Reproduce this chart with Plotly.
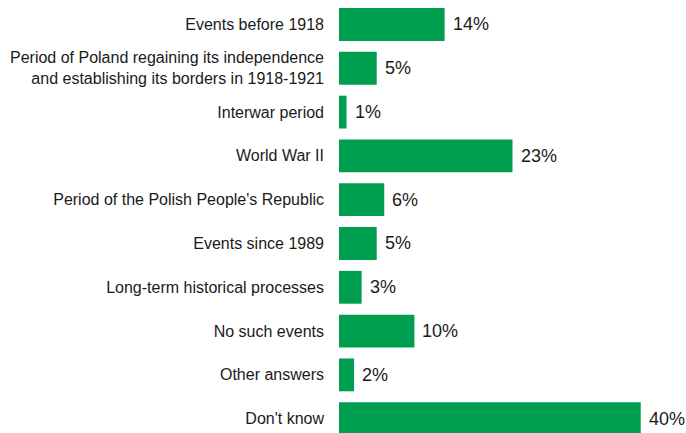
import plotly.graph_objects as go

# Survey answers and their shares (percent)
categories = [
    "Events before 1918",
    "Period of Poland regaining its independence<br>and establishing its borders in 1918-1921",
    "Interwar period",
    "World War II",
    "Period of the Polish People's Republic",
    "Events since 1989",
    "Long-term historical processes",
    "No such events",
    "Other answers",
    "Don't know",
]
shares = [14, 5, 1, 23, 6, 5, 3, 10, 2, 40]
value_labels = [f"{v}%" for v in shares]

BAR_COLOR = "#009F50"
TEXT_COLOR = "#1a1a1a"
FONT = "Liberation Sans, Arial, sans-serif"

fig = go.Figure(
    go.Bar(
        x=shares,
        y=categories,
        orientation="h",
        marker=dict(color=BAR_COLOR, line=dict(width=0)),
        width=0.75,
        hoverinfo="x+y",
    )
)

# Percentage labels placed just past the end of each bar
for cat, val, lab in zip(categories, shares, value_labels):
    fig.add_annotation(
        x=val,
        y=cat,
        text=lab,
        showarrow=False,
        xanchor="left",
        yanchor="middle",
        xshift=7,
        borderpad=0,
        font=dict(size=18, color=TEXT_COLOR, family=FONT),
    )

fig.update_layout(
    width=686,
    height=433,
    margin=dict(l=339, r=0, t=0, b=0),
    paper_bgcolor="white",
    plot_bgcolor="white",
    showlegend=False,
    font=dict(family=FONT),
    xaxis=dict(
        range=[0, 46.0],
        visible=False,
        fixedrange=True,
    ),
    yaxis=dict(
        range=[9.327, -0.559],
        showgrid=False,
        zeroline=False,
        showline=False,
        ticks="",
        tickfont=dict(size=16, color=TEXT_COLOR, family=FONT),
        ticklabelstandoff=14,
        fixedrange=True,
    ),
)

fig.write_html("out.html")
